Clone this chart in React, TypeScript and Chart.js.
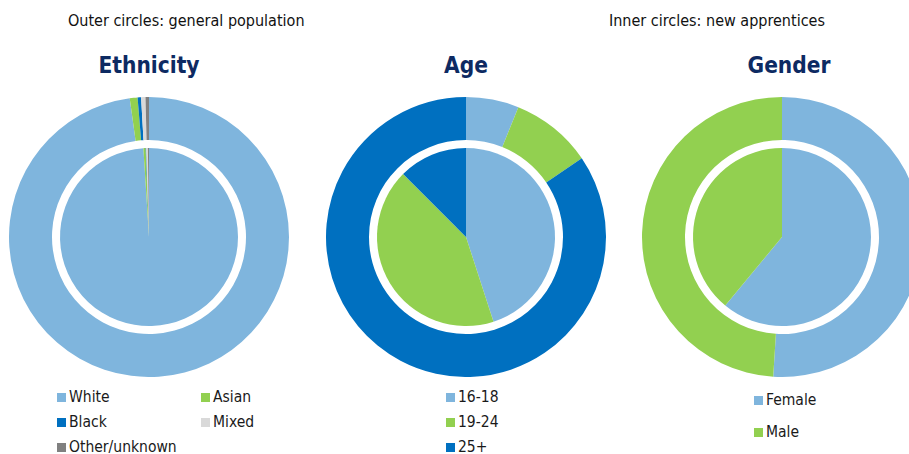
import React, { useEffect, useRef } from "react";
import { Chart, registerables } from "chart.js";

Chart.register(...registerables);

// ---------- data ----------
const ethnicityLabels = ["White", "Asian", "Black", "Mixed", "Other/unknown"];
const ethnicityGeneral = [97.8, 0.9, 0.4, 0.5, 0.4];
const ethnicityApprentices = [99.0, 0.4, 0.1, 0.3, 0.2];
const ethnicityColors = ["#7fb5dd", "#92d050", "#0070c0", "#d9d9d9", "#808080"];

const ageLabels = ["16-18", "19-24", "25+"];
const ageGeneral = [6.1, 9.4, 84.5];
const ageApprentices = [45.0, 42.5, 12.5];
const ageColors = ["#7fb5dd", "#92d050", "#0070c0"];

const genderLabels = ["Female", "Male"];
const genderGeneral = [51.0, 49.0];
const genderApprentices = [61.0, 39.0];
const genderColors = ["#7fb5dd", "#92d050"];

const topLeftNote = "Outer circles: general population";
const topRightNote = "Inner circles: new apprentices";

const FONT = "'DejaVu Sans Condensed', 'DejaVu Sans', sans-serif";
const TITLE_COLOR = "#0d2a62";

type DonutProps = {
  labels: string[];
  outer: number[];
  inner: number[];
  colors: string[];
  left: number;
  top: number;
  size: number;
};

function Donut({ labels, outer, inner, colors, left, top, size }: DonutProps) {
  const ref = useRef<HTMLCanvasElement | null>(null);
  useEffect(() => {
    if (!ref.current) return;
    const chart = new Chart(ref.current, {
      type: "doughnut",
      data: {
        labels,
        datasets: [
          {
            label: "General population",
            data: outer,
            backgroundColor: colors,
            borderWidth: 0,
            weight: 43,
          },
          {
            // transparent spacer ring creating the white gap
            label: "gap",
            data: [1],
            backgroundColor: ["rgba(0,0,0,0)"],
            borderWidth: 0,
            weight: 8,
          },
          {
            label: "New apprentices",
            data: inner,
            backgroundColor: colors,
            borderWidth: 0,
            weight: 89,
          },
        ],
      },
      options: {
        responsive: false,
        animation: false,
        devicePixelRatio: 1,
        cutout: 0,
        layout: { padding: 0 },
        plugins: {
          legend: { display: false },
          tooltip: { enabled: false },
          title: { display: false },
        },
        events: [],
      } as any,
    });
    return () => chart.destroy();
  }, []);
  return (
    <canvas
      ref={ref}
      width={size}
      height={size}
      style={{ position: "absolute", left, top, width: size, height: size }}
    />
  );
}

function Legend({
  items,
  colors,
  positions,
}: {
  items: string[];
  colors: string[];
  positions: [number, number][];
}) {
  return (
    <>
      {items.map((t, i) => (
        <div
          key={t}
          style={{
            position: "absolute",
            left: positions[i][0],
            top: positions[i][1] - 9,
            height: 18,
            lineHeight: "18px",
            fontFamily: FONT,
            fontSize: 15.5,
            color: "#1a1a1a",
            whiteSpace: "nowrap",
            display: "flex",
            alignItems: "center",
          }}
        >
          <span
            style={{
              display: "inline-block",
              width: 9,
              height: 9,
              background: colors[i],
              marginRight: 3,
            }}
          />
          {t}
        </div>
      ))}
    </>
  );
}

function Title({ text, cx }: { text: string; cx: number }) {
  return (
    <div
      style={{
        position: "absolute",
        left: cx - 100,
        width: 200,
        top: 51,
        height: 28,
        lineHeight: "28px",
        textAlign: "center",
        fontFamily: FONT,
        fontWeight: "bold",
        fontSize: 22.5,
        color: TITLE_COLOR,
      }}
    >
      {text}
    </div>
  );
}

const noteStyle: React.CSSProperties = {
  position: "absolute",
  top: 12,
  lineHeight: "18px",
  fontFamily: FONT,
  fontSize: 16,
  color: "#111",
  whiteSpace: "nowrap",
};

export default function App() {
  const R = 140;
  const cy = 237;
  return (
    <div
      style={{
        position: "absolute",
        left: 0,
        top: 0,
        width: 909,
        height: 454,
        overflow: "hidden",
        background: "#ffffff",
      }}
    >
      <div style={{ ...noteStyle, left: 68 }}>{topLeftNote}</div>
      <div style={{ ...noteStyle, left: 609 }}>{topRightNote}</div>

      <Title text="Ethnicity" cx={149} />
      <Title text="Age" cx={466} />
      <Title text="Gender" cx={789} />

      <Donut
        labels={ethnicityLabels}
        outer={ethnicityGeneral}
        inner={ethnicityApprentices}
        colors={ethnicityColors}
        left={149 - R}
        top={cy - R}
        size={2 * R}
      />
      <Donut
        labels={ageLabels}
        outer={ageGeneral}
        inner={ageApprentices}
        colors={ageColors}
        left={466 - R}
        top={cy - R}
        size={2 * R}
      />
      <Donut
        labels={genderLabels}
        outer={genderGeneral}
        inner={genderApprentices}
        colors={genderColors}
        left={782 - R}
        top={cy - R}
        size={2 * R}
      />

      <Legend
        items={ethnicityLabels}
        colors={ethnicityColors}
        positions={[
          [57, 397],
          [201, 397],
          [57, 422],
          [201, 422],
          [57, 447],
        ]}
      />
      <Legend
        items={ageLabels}
        colors={ageColors}
        positions={[
          [446, 397],
          [446, 422],
          [446, 447],
        ]}
      />
      <Legend
        items={genderLabels}
        colors={genderColors}
        positions={[
          [754, 400],
          [754, 432],
        ]}
      />
    </div>
  );
}
